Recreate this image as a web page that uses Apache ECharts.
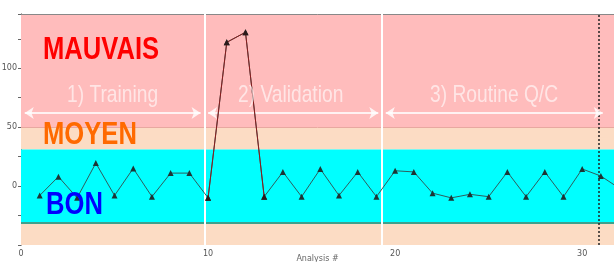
<!DOCTYPE html>
<html>
<head>
<meta charset="utf-8">
<script src="https://cdn.jsdelivr.net/npm/echarts@6/dist/echarts.min.js"></script>
<style>
  html, body { margin: 0; padding: 0; background: #fff; }
  #chart { width: 614px; height: 262px; }
</style>
</head>
<body>
<div id="chart"></div>
<script>
// analysis number and measured value
const analysisNo = [1, 2, 3, 4, 5, 6, 7, 8, 9, 10, 11, 12, 13, 14, 15, 16,
  17, 18, 19, 20, 21, 22, 23, 24, 25, 26, 27, 28, 29, 30, 31, 32];
const values = [-8, 8, -10, 19.5, -8, 15, -9, 11, 11, -10, 122, 130.5, -9, 12, -9, 14.5,
  -8, 12, -9, 13, 12, -6, -10, -7, -9, 12, -9, 12, -9, 14.5, 8.5, -2];
// points 10..13 leave the control zone (drawn in red)
const outOfControl = [10, 11, 12, 13];

// zones (y limits)
const zoneBon = [-31, 31];
const zoneMoyenTop = [31, 50];
const zoneMoyenBottom = [-50, -31];
const zoneMauvais = [50, 146];

// phases along the x axis
const phaseNames = ['1) Training', '2) Validation', '3) Routine Q/C'];
const phaseBounds = [9.8, 19.3];
const phaseArrows = [[0.2, 9.6], [10.0, 19.1], [19.5, 31.1]];
const arrowLevel = 62;
const currentRun = 30.9;

const yTickLabels = [0, 50, 100];
const xTickLabels = [0, 10, 20, 30];

const mainData = analysisNo.map((x, i) => [x, values[i]]);
const redData = analysisNo.map((x, i) => outOfControl.includes(x) ? [x, values[i]] : [x, null]);

const chart = echarts.init(document.getElementById('chart'));

const zoneText = (text, x, y, color) => ({
  type: 'text', x: x, y: y, scaleX: 0.8, z: 50,
  style: { text: text, fill: color, font: 'bold 32px "Liberation Sans", Arial, sans-serif', textVerticalAlign: 'middle' }
});
const phaseText = (text, x) => ({
  type: 'text', x: x, y: 95, scaleX: 0.8, z: 50,
  style: { text: text, fill: 'rgba(255,255,255,0.62)', font: '24px "Liberation Sans", Arial, sans-serif', textVerticalAlign: 'middle' }
});

chart.setOption({
  animation: false,
  grid: { left: 21, right: 0, top: 14, bottom: 17, containLabel: false, outerBoundsMode: 'none' },
  xAxis: {
    type: 'value', min: 0, max: 31.7, interval: 5,
    name: 'Analysis #', nameLocation: 'middle', nameGap: 10, nameMoveOverlap: false,
    nameTextStyle: { fontSize: 8, color: '#666', fontFamily: 'DejaVu Sans', verticalAlign: 'top' },
    axisLine: { lineStyle: { color: '#888', width: 1 } },
    axisTick: { length: 3, lineStyle: { color: '#666' } },
    axisLabel: {
      fontSize: 8, color: '#555', margin: 5, fontFamily: 'DejaVu Sans',
      formatter: v => xTickLabels.includes(v) ? String(v) : ''
    },
    splitLine: { show: false }
  },
  yAxis: {
    type: 'value', min: -50, max: 146, interval: 25,
    axisLine: { show: true, lineStyle: { color: '#333', width: 1 } },
    axisTick: { show: true, length: 3, lineStyle: { color: '#666' } },
    axisLabel: {
      fontSize: 8, color: '#555', margin: 4, fontFamily: 'DejaVu Sans',
      formatter: v => yTickLabels.includes(v) ? String(v) : ''
    },
    splitLine: { show: false }
  },
  series: [
    {
      type: 'line',
      data: mainData,
      z: 5,
      symbol: 'triangle', symbolSize: 6,
      itemStyle: { color: '#1d3535' },
      lineStyle: { color: '#2f5c5c', width: 1 },
      markArea: {
        silent: true,
        data: [
          [{ yAxis: zoneMauvais[0], itemStyle: { color: '#ffbcbc' } }, { yAxis: zoneMauvais[1] }],
          [{ yAxis: zoneMoyenTop[0], itemStyle: { color: '#fcdcc4' } }, { yAxis: zoneMoyenTop[1] }],
          [{ yAxis: zoneBon[0], itemStyle: { color: '#00ffff' } }, { yAxis: zoneBon[1] }],
          [{ yAxis: zoneMoyenBottom[0], itemStyle: { color: '#fcdcc4' } }, { yAxis: zoneMoyenBottom[1] }]
        ]
      },
      markLine: {
        silent: true,
        symbol: 'none',
        label: { show: false },
        data: [
          { yAxis: zoneBon[0], lineStyle: { color: '#3fa08c', width: 2, type: 'solid' } },
          { yAxis: zoneMoyenTop[1], lineStyle: { color: '#e8a8a0', width: 1, type: 'solid' } },
          { yAxis: 146, lineStyle: { color: '#888', width: 1, type: 'solid' } },
          ...phaseBounds.map(x => ({ xAxis: x, lineStyle: { color: '#ffffff', width: 2, type: 'solid' } })),
          { xAxis: currentRun, lineStyle: { color: '#222', width: 1.5, type: [2, 2] } },
          ...phaseArrows.map(a => [
            { coord: [a[0], arrowLevel], symbol: 'arrow', lineStyle: { color: 'rgba(255,255,255,0.8)', width: 2, type: 'solid' } },
            { coord: [a[1], arrowLevel], symbol: 'arrow' }
          ])
        ],
        symbolSize: 9
      }
    },
    {
      type: 'line',
      data: redData,
      z: 6,
      connectNulls: false,
      symbol: 'triangle', symbolSize: 6,
      itemStyle: { color: '#2a1a1a' },
      lineStyle: { color: '#8c1c1c', width: 1 }
    }
  ],
  graphic: [
    zoneText('MAUVAIS', 43, 50, '#ff0000'),
    zoneText('MOYEN', 43, 135, '#ff6a00'),
    zoneText('BON', 46, 205, '#0000ff'),
    phaseText(phaseNames[0], 67),
    phaseText(phaseNames[1], 238),
    phaseText(phaseNames[2], 430)
  ]
});
</script>
</body>
</html>
